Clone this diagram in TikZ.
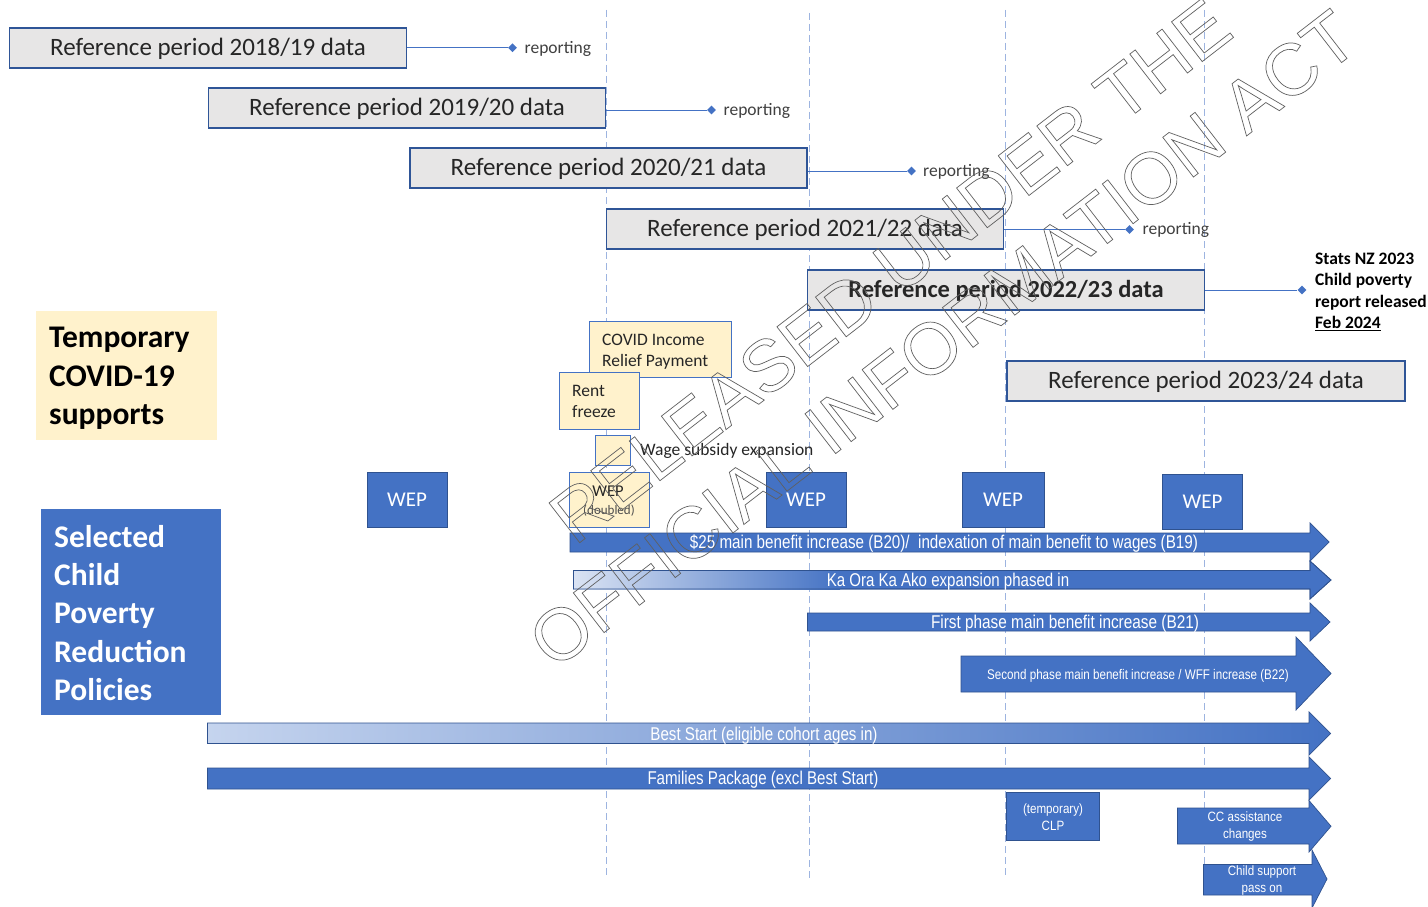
\documentclass[tikz,border=0pt]{standalone}
\usepackage{graphicx}
\usepackage{fontspec}
\setmainfont{Carlito}
\newfontfamily\arialf{Liberation Sans}
\usetikzlibrary{shapes.geometric}
\definecolor{mblue}{HTML}{4472C4}
\definecolor{dblue}{HTML}{2F528F}
\definecolor{bborder}{HTML}{2F5597}
\definecolor{boxgray}{HTML}{E7E6E6}
\definecolor{covid}{HTML}{FFF2CC}
\definecolor{dashblue}{HTML}{9DB4E0}
\definecolor{lightblue}{HTML}{DAE3F3}
\definecolor{bestlight}{HTML}{C5D4EE}
\definecolor{bestmid}{HTML}{9CB3E1}
\definecolor{txt}{HTML}{262626}
\definecolor{wmgray}{HTML}{606060}
\newcommand\sx[2]{\scalebox{#1}[1]{#2}}
% style, x-left, x-headbase, x-tip, body top, body bottom, head top, head bottom
\newcommand\blockarr[8]{\path[#1] (#2,#5) -- (#3,#5) -- (#3,#7) -- (#4,{(#7+#8)/2}) -- (#3,#8) -- (#3,#6) -- (#2,#6) -- cycle;}
\tikzset{
 refbox/.style={draw=bborder, line width=1.4pt, fill=boxgray, minimum width=397pt, minimum height=40pt, inner sep=0pt, text=txt, text height=18pt, text depth=3pt, font=\fontsize{25}{29}\selectfont},
 repline/.style={draw=mblue, line width=1pt},
 repdot/.style={diamond, fill=mblue, inner sep=0pt, minimum size=9pt},
 reptext/.style={anchor=west, inner sep=0pt, text=black!75, font=\fontsize{17.5}{20}\selectfont},
 dashline/.style={draw=dashblue, line width=1pt, dash pattern=on 7pt off 4pt},
 cbox/.style={draw=mblue, line width=1pt, fill=covid, inner sep=0pt},
 ctext/.style={anchor=west, inner sep=0pt, text=txt, align=left, font=\fontsize{17.5}{21}\selectfont},
 wepbox/.style={draw=dblue, line width=0.8pt, fill=mblue, text=white, minimum width=80pt, minimum height=55pt, inner sep=0pt, font=\fontsize{21}{25}\selectfont},
 barrow/.style={fill=mblue, draw=dblue, line width=0.7pt},
 alabel/.style={text=white, inner sep=0pt, yshift=-1.5pt, font=\arialf\fontsize{18.5}{22}\selectfont},
 slabel/.style={text=white, inner sep=0pt, align=center, font=\arialf\fontsize{13.5}{16.5}\selectfont},
 bigtext/.style={anchor=west, inner sep=0pt, align=left, font=\bfseries\fontsize{31.5}{38.3}\selectfont},
}
\begin{document}
\begin{tikzpicture}[x=1pt,y=-1pt]
\useasboundingbox (0,0) rectangle (1428,907);
\fill[white] (0,0) rectangle (1428,907);

% dashed period dividers
\draw[dashline] (606.5,10) -- (606.5,875);
\draw[dashline] (809.5,13) -- (809.5,880);
\draw[dashline] (1005,10) -- (1005,875);
\draw[dashline] (1204.5,10) -- (1204.5,865);

% reference period boxes
\node[refbox] (r1) at (208,48) {Reference period 2018/19 data};
\node[refbox] (r2) at (407,108) {Reference period 2019/20 data};
\node[refbox] (r3) at (608.5,168) {Reference period 2020/21 data};
\node[refbox] (r4) at (805,229) {Reference period 2021/22 data};
\node[refbox, font=\bfseries\fontsize{24.5}{29}\selectfont] (r5) at (1006,290) {Reference period 2022/23 data};
\node[refbox, minimum width=398pt] (r6) at (1206,381) {Reference period 2023/24 data};

% reporting markers
\node[repdot] (d1) at (512.5,47.7) {};
\node[repdot] (d2) at (711.5,110) {};
\node[repdot] (d3) at (911.5,171) {};
\node[repdot] (d4) at (1129.5,229.5) {};
\node[repdot] (d5) at (1302,290) {};
\draw[repline] (r1.east |- d1) -- (d1);
\draw[repline] (r2.east |- d2) -- (d2);
\draw[repline] (r3.east |- d3) -- (d3);
\draw[repline] (r4.east |- d4) -- (d4);
\draw[repline] (r5.east |- d5) -- (d5);
\node[reptext] (t1) at (524.5,49) {reporting};
\node[reptext] (t2) at (723.5,111) {reporting};
\node[reptext] (t3) at (923,172) {reporting};
\node[reptext] (t4) at (1142.5,230) {reporting};
\node[anchor=north west, inner sep=0pt, align=left, text=black, font=\bfseries\fontsize{17.5}{21.5}\selectfont] (stats) at (1315,252.6) {Stats NZ 2023\\Child poverty\\report released\\\underline{Feb 2024}};

% legend boxes
\node[fill=covid, minimum width=181pt, minimum height=129pt, inner sep=0pt] (tcs) at (126.5,375.5) {};
\node[bigtext, text=black] (tcst) at (49,378.5) {Temporary\\COVID-19\\supports};
\node[fill=mblue, minimum width=180pt, minimum height=206pt, inner sep=0pt] (scp) at (131,612) {};
\node[bigtext, text=white] (scpt) at (54,613) {Selected\\Child\\Poverty\\Reduction\\Policies};

% temporary COVID supports
\node[cbox, minimum width=142.5pt, minimum height=56pt] (cirp) at (660.3,349.7) {};
\node[ctext] (cirpt) at (602,352) {COVID Income\\Relief Payment};
\node[cbox, minimum width=80pt, minimum height=57pt] (rent) at (599,400.5) {};
\node[ctext] (rentt) at (572,401.5) {Rent\\freeze};
\node[cbox, minimum width=35pt, minimum height=30pt] (wage) at (612.5,450.7) {};
\node[ctext] (waget) at (640,451) {Wage subsidy expansion};
\node[cbox, minimum width=80pt, minimum height=55pt] (wepd) at (609,499.5) {};
\node[inner sep=0pt, text=txt, font=\fontsize{16.5}{20}\selectfont] (wepdt) at (608,491.5) {WEP};
\node[inner sep=0pt, text=black!70, font=\fontsize{13}{16}\selectfont] (wepdd) at (609,510.5) {(doubled)};

% WEP boxes
\node[wepbox] (wep1) at (407,499.5) {WEP};
\node[wepbox] (wep2) at (806,499.5) {WEP};
\node[wepbox, minimum width=82pt] (wep3) at (1003,500) {WEP};
\node[wepbox] (wep4) at (1202.5,501.5) {WEP};

% policy arrows
\blockarr{barrow}{570}{1310}{1329}{533}{552}{523}{561}
\node[alabel] (a1) at (944,542.5) {\sx{0.822}{\$25 main benefit increase (B20)/\ \ indexation of main benefit to wages (B19)}};

\blockarr{barrow}{573.5}{1310}{1331}{570.5}{589}{561}{599}
\shade[left color=lightblue, right color=mblue] (573.5,570.5) rectangle (840,589);
\blockarr{draw=dblue, line width=0.7pt}{573.5}{1310}{1331}{570.5}{589}{561}{599}
\node[alabel] (a2) at (948,580) {\sx{0.813}{Ka Ora Ka Ako expansion phased in}};

\blockarr{barrow}{807.5}{1310}{1330}{613}{631}{603}{641}
\node[alabel] (a3) at (1065,622) {\sx{0.83}{First phase main benefit increase (B21)}};

\blockarr{barrow}{961}{1296}{1331}{656}{692}{637}{710}
\node[alabel, font=\arialf\fontsize{14}{17}\selectfont] (a4) at (1138,674) {\sx{0.83}{Second phase main benefit increase / WFF increase (B22)}};

\blockarr{draw=dblue, line width=0.7pt, left color=bestlight, middle color=bestmid, right color=mblue}{207.5}{1309}{1330.5}{723}{743.5}{712}{755}
\node[alabel] (a5) at (764,734) {\sx{0.818}{Best Start (eligible cohort ages in)}};

\blockarr{barrow}{207.5}{1309}{1330.5}{768}{789}{757}{800}
\node[alabel] (a6) at (763,778.5) {\sx{0.817}{Families Package (excl Best Start)}};

\node[draw=dblue, line width=0.7pt, fill=mblue, minimum width=93pt, minimum height=48.5pt, inner sep=0pt] (clp) at (1053,816.3) {};
\node[slabel] (clpt) at (1053,817) {\sx{0.86}{(temporary)}\\\sx{0.86}{CLP}};

\blockarr{barrow}{1177.5}{1309}{1331}{808}{844}{800.5}{852}
\node[slabel] (cct) at (1245,826.5) {\sx{0.86}{CC assistance}\\\sx{0.86}{changes}};

\blockarr{barrow}{1203.5}{1312}{1327}{864.5}{895}{850}{908}
\node[slabel] (cst) at (1262,880.5) {\sx{0.86}{Child support}\\\sx{0.86}{pass on}};

% watermark
\node[rotate=37.7, inner sep=0pt, align=center, text=wmgray, font=\arialf\fontsize{73}{86}\selectfont] (wm) at (916.5,305) {\special{pdf:literal direct 0.7 w 1 Tr}RELEASED UNDER THE\\OFFICIAL INFORMATION ACT\special{pdf:literal direct 0 Tr}};
\end{tikzpicture}
\end{document}
